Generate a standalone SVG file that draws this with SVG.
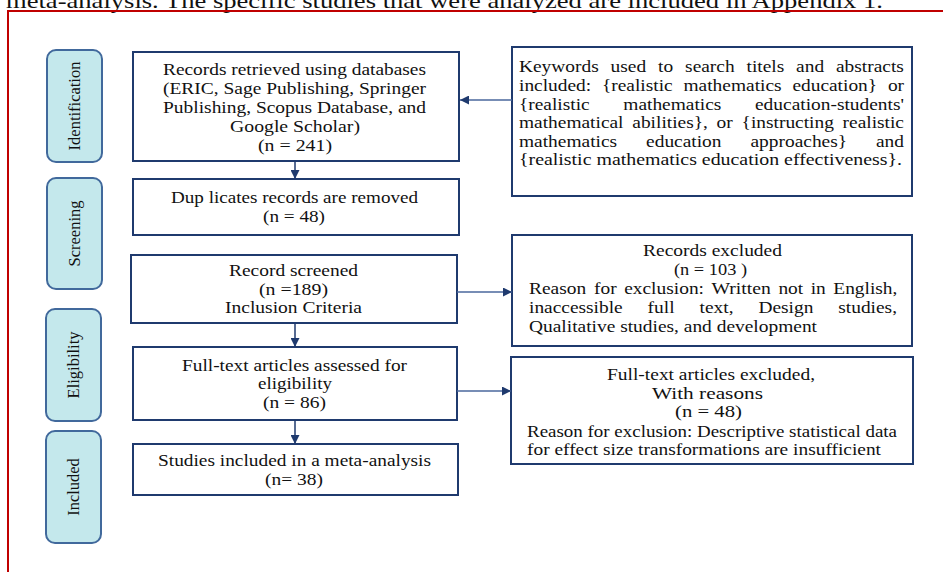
<svg xmlns="http://www.w3.org/2000/svg" width="943" height="572" viewBox="0 0 943 572">
<style>
text{font-family:"Liberation Serif","Times New Roman",serif;fill:#111;}
.t{font-size:16.5px;}
.box{fill:#fff;stroke:#1f3a6e;stroke-width:2;}
.pill{fill:#c4e8ec;stroke:#41699c;stroke-width:2;}
.lbl{font-size:16.5px;text-anchor:middle;dominant-baseline:central;}
.con{fill:none;stroke:#4a679c;stroke-width:1.3;}
.dn{fill:none;stroke:#1f3a6e;stroke-width:1.5;}
</style>
<defs>
<marker id="ah" viewBox="0 0 10 10" refX="10" refY="5" markerWidth="9" markerHeight="9" markerUnits="userSpaceOnUse" orient="auto">
<path d="M0,0 L10,5 L0,10 z" fill="#1f3a6e"/>
</marker>
</defs>
<rect width="943" height="572" fill="#fff"/>
<text x="6" y="7.5" style="font-size:21px" textLength="877" lengthAdjust="spacingAndGlyphs">meta-analysis. The specific studies that were analyzed are included in Appendix 1.</text>
<path d="M943,11 H8 V572" fill="none" stroke="#c00000" stroke-width="2"/>

<g id="stage-identification">
<rect class="pill" x="47" y="50" width="55" height="112" rx="9"/>
<text class="lbl" transform="translate(74.5,106) rotate(-90)">Identification</text>
</g>
<g id="stage-screening">
<rect class="pill" x="47" y="178" width="55" height="111" rx="9"/>
<text class="lbl" transform="translate(74.5,233.5) rotate(-90)">Screening</text>
</g>
<g id="stage-eligibility">
<rect class="pill" x="46" y="309" width="55" height="112" rx="9"/>
<text class="lbl" transform="translate(73.5,365) rotate(-90)">Eligibility</text>
</g>
<g id="stage-included">
<rect class="pill" x="46" y="431" width="55" height="112" rx="9"/>
<text class="lbl" transform="translate(73.5,487) rotate(-90)">Included</text>
</g>

<g id="records-retrieved">
<rect class="box" x="133" y="52" width="326" height="109"/>
<text class="t" x="163" y="75" textLength="263" lengthAdjust="spacingAndGlyphs">Records retrieved using databases</text>
<text class="t" x="163" y="94" textLength="263" lengthAdjust="spacingAndGlyphs">(ERIC, Sage Publishing, Springer</text>
<text class="t" x="163" y="113" textLength="263" lengthAdjust="spacingAndGlyphs">Publishing, Scopus Database, and</text>
<text class="t" x="230" y="132" textLength="130" lengthAdjust="spacingAndGlyphs">Google Scholar)</text>
<text class="t" x="258" y="151" textLength="74" lengthAdjust="spacingAndGlyphs">(n = 241)</text>
</g>

<g id="keywords">
<rect class="box" x="512" y="47" width="400" height="149"/>
<text class="t" x="519" y="72" textLength="79.7" lengthAdjust="spacingAndGlyphs">Keywords</text>
<text class="t" x="610.6" y="72" textLength="35.6" lengthAdjust="spacingAndGlyphs">used</text>
<text class="t" x="658.1" y="72" textLength="15.1" lengthAdjust="spacingAndGlyphs">to</text>
<text class="t" x="685.1" y="72" textLength="49.5" lengthAdjust="spacingAndGlyphs">search</text>
<text class="t" x="746.5" y="72" textLength="37.7" lengthAdjust="spacingAndGlyphs">titels</text>
<text class="t" x="796.1" y="72" textLength="28" lengthAdjust="spacingAndGlyphs">and</text>
<text class="t" x="836" y="72" textLength="67.9" lengthAdjust="spacingAndGlyphs">abstracts</text>
<text class="t" x="519" y="91" textLength="72.2" lengthAdjust="spacingAndGlyphs">included:</text>
<text class="t" x="602" y="91" textLength="70.7" lengthAdjust="spacingAndGlyphs">{realistic</text>
<text class="t" x="683.5" y="91" textLength="98.1" lengthAdjust="spacingAndGlyphs">mathematics</text>
<text class="t" x="792.4" y="91" textLength="84.7" lengthAdjust="spacingAndGlyphs">education}</text>
<text class="t" x="887.9" y="91" textLength="16.2" lengthAdjust="spacingAndGlyphs">or</text>
<text class="t" x="519" y="109.5" textLength="70.7" lengthAdjust="spacingAndGlyphs">{realistic</text>
<text class="t" x="623.3" y="109.5" textLength="98.1" lengthAdjust="spacingAndGlyphs">mathematics</text>
<text class="t" x="755" y="109.5" textLength="149" lengthAdjust="spacingAndGlyphs">education-students'</text>
<text class="t" x="519" y="128" textLength="104.5" lengthAdjust="spacingAndGlyphs">mathematical</text>
<text class="t" x="632.3" y="128" textLength="75.6" lengthAdjust="spacingAndGlyphs">abilities},</text>
<text class="t" x="716.6" y="128" textLength="16.2" lengthAdjust="spacingAndGlyphs">or</text>
<text class="t" x="741.6" y="128" textLength="92.3" lengthAdjust="spacingAndGlyphs">{instructing</text>
<text class="t" x="842.6" y="128" textLength="61.4" lengthAdjust="spacingAndGlyphs">realistic</text>
<text class="t" x="519" y="146.5" textLength="98.1" lengthAdjust="spacingAndGlyphs">mathematics</text>
<text class="t" x="646.1" y="146.5" textLength="75.4" lengthAdjust="spacingAndGlyphs">education</text>
<text class="t" x="750.5" y="146.5" textLength="96.6" lengthAdjust="spacingAndGlyphs">approaches}</text>
<text class="t" x="876" y="146.5" textLength="28" lengthAdjust="spacingAndGlyphs">and</text>
<text class="t" x="519" y="165" textLength="383" lengthAdjust="spacingAndGlyphs">{realistic mathematics education effectiveness}.</text>
</g>

<g id="duplicates">
<rect class="box" x="133" y="179" width="326" height="56"/>
<text class="t" x="171" y="203" textLength="247" lengthAdjust="spacingAndGlyphs">Dup licates records are removed</text>
<text class="t" x="263" y="222" textLength="62" lengthAdjust="spacingAndGlyphs">(n = 48)</text>
</g>

<g id="record-screened">
<rect class="box" x="131" y="255" width="326" height="68"/>
<text class="t" x="229" y="276" textLength="129" lengthAdjust="spacingAndGlyphs">Record screened</text>
<text class="t" x="259" y="295" textLength="69" lengthAdjust="spacingAndGlyphs">(n =189)</text>
<text class="t" x="225" y="313" textLength="137" lengthAdjust="spacingAndGlyphs">Inclusion Criteria</text>
</g>

<g id="records-excluded">
<rect class="box" x="512" y="235" width="400" height="111"/>
<text class="t" x="643" y="256" textLength="139" lengthAdjust="spacingAndGlyphs">Records excluded</text>
<text class="t" x="674" y="275" textLength="73" lengthAdjust="spacingAndGlyphs">(n = 103 )</text>
<text class="t" x="529" y="294" textLength="57.1" lengthAdjust="spacingAndGlyphs">Reason</text>
<text class="t" x="594.1" y="294" textLength="22.6" lengthAdjust="spacingAndGlyphs">for</text>
<text class="t" x="624.2" y="294" textLength="79.8" lengthAdjust="spacingAndGlyphs">exclusion:</text>
<text class="t" x="711.5" y="294" textLength="59.3" lengthAdjust="spacingAndGlyphs">Written</text>
<text class="t" x="778.4" y="294" textLength="24.8" lengthAdjust="spacingAndGlyphs">not</text>
<text class="t" x="810.7" y="294" textLength="15.1" lengthAdjust="spacingAndGlyphs">in</text>
<text class="t" x="833.3" y="294" textLength="64.1" lengthAdjust="spacingAndGlyphs">English,</text>
<text class="t" x="529" y="313" textLength="93.7" lengthAdjust="spacingAndGlyphs">inaccessible</text>
<text class="t" x="647.6" y="313" textLength="27" lengthAdjust="spacingAndGlyphs">full</text>
<text class="t" x="699.5" y="313" textLength="34" lengthAdjust="spacingAndGlyphs">text,</text>
<text class="t" x="758.4" y="313" textLength="55" lengthAdjust="spacingAndGlyphs">Design</text>
<text class="t" x="838.3" y="313" textLength="58.7" lengthAdjust="spacingAndGlyphs">studies,</text>
<text class="t" x="529" y="332" textLength="288" lengthAdjust="spacingAndGlyphs">Qualitative studies, and development</text>
</g>

<g id="full-text-assessed">
<rect class="box" x="133" y="347" width="324" height="73"/>
<text class="t" x="182" y="371" textLength="225" lengthAdjust="spacingAndGlyphs">Full-text articles assessed for</text>
<text class="t" x="258" y="389" textLength="74" lengthAdjust="spacingAndGlyphs">eligibility</text>
<text class="t" x="263" y="408" textLength="63" lengthAdjust="spacingAndGlyphs">(n = 86)</text>
</g>

<g id="full-text-excluded">
<rect class="box" x="511" y="357" width="402" height="107"/>
<text class="t" x="607" y="380" textLength="208" lengthAdjust="spacingAndGlyphs">Full-text articles excluded,</text>
<text class="t" x="652" y="398.5" textLength="111" lengthAdjust="spacingAndGlyphs">With reasons</text>
<text class="t" x="675" y="417" textLength="67" lengthAdjust="spacingAndGlyphs">(n = 48)</text>
<text class="t" x="527" y="437" textLength="370" lengthAdjust="spacingAndGlyphs">Reason for exclusion: Descriptive statistical data</text>
<text class="t" x="527" y="455" textLength="354" lengthAdjust="spacingAndGlyphs">for effect size transformations are insufficient</text>
</g>

<g id="studies-included">
<rect class="box" x="133" y="444" width="325" height="51"/>
<text class="t" x="158" y="466" textLength="273" lengthAdjust="spacingAndGlyphs">Studies included in a meta-analysis</text>
<text class="t" x="265" y="485" textLength="58" lengthAdjust="spacingAndGlyphs">(n= 38)</text>
</g>

<g id="connectors">
<path class="dn" d="M295,161 V179" marker-end="url(#ah)"/>
<path class="dn" d="M295,323 V347" marker-end="url(#ah)"/>
<path class="dn" d="M295,420 V444" marker-end="url(#ah)"/>
<path class="con" d="M512,100 H460" marker-end="url(#ah)"/>
<path class="con" d="M457,292 H512" marker-end="url(#ah)"/>
<path class="con" d="M457,391 H511" marker-end="url(#ah)"/>
</g>
</svg>
